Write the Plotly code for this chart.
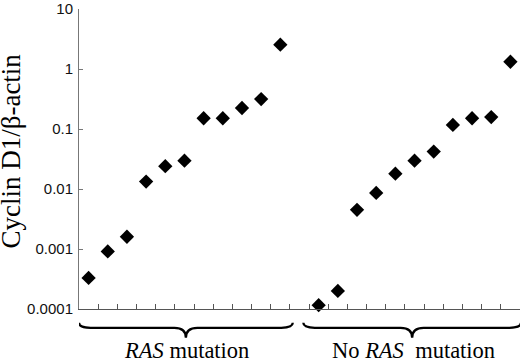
import plotly.graph_objects as go

# Data
ras_values = [0.00033, 0.00091, 0.0016, 0.0133, 0.024, 0.0296, 0.151, 0.151, 0.224, 0.315, 2.54]
noras_values = [0.000116, 0.0002, 0.0045, 0.0086, 0.018, 0.0296, 0.042, 0.117, 0.151, 0.158, 1.32]
group_labels = ["<i>RAS</i> mutation", "No <i>RAS</i>  mutation"]
y_tickvals = [0.0001, 0.001, 0.01, 0.1, 1, 10]
y_ticktext = ["0.0001", "0.001", "0.01", "0.1", "1", "10"]
y_title = "Cyclin D1/\u03b2-actin"

n1 = len(ras_values)
n2 = len(noras_values)
x1 = list(range(1, n1 + 1))
x2 = list(range(n1 + 2, n1 + 2 + n2))
n_total = n1 + 1 + n2

PLOT_H = 303

def py(pix_below_axis):
    return -pix_below_axis / PLOT_H

fig = go.Figure()
marker = dict(symbol="diamond", size=11, color="black")
fig.add_trace(go.Scatter(x=x1, y=ras_values, mode="markers", marker=marker, showlegend=False, cliponaxis=False))
fig.add_trace(go.Scatter(x=x2, y=noras_values, mode="markers", marker=marker, showlegend=False, cliponaxis=False))

def brace(xa, xb, y_end=py(14), y_mid=py(19), y_tip=py(29), r=0.6):
    xc = (xa + xb) / 2
    return (f"M {xa},{y_end} Q {xa},{y_mid} {xa + r},{y_mid} "
            f"L {xc - r},{y_mid} Q {xc},{y_mid} {xc},{y_tip} "
            f"Q {xc},{y_mid} {xc + r},{y_mid} "
            f"L {xb - r},{y_mid} Q {xb},{y_mid} {xb},{y_end}")

groups = [(x1[0] - 0.5, x1[-1] + 0.65), (x2[0] - 0.8, x2[-1] + 0.55)]
for (xa, xb), lab in zip(groups, group_labels):
    fig.add_shape(type="path", path=brace(xa, xb), xref="x", yref="paper",
                  line=dict(color="black", width=2.3))
    fig.add_annotation(x=(xa + xb) / 2 + 0.05, y=py(42), xref="x", yref="paper",
                       text=lab, showarrow=False, yanchor="middle",
                       font=dict(family="Liberation Serif", size=22.5, color="black"))

fig.add_annotation(x=(11 - 79) / 441, y=(309 - 150) / PLOT_H, xref="paper", yref="paper",
                   text=y_title, textangle=-90, showarrow=False, xanchor="center",
                   font=dict(family="Liberation Serif", size=27, color="black"))

fig.update_xaxes(range=[0.5, n_total + 0.5], tickvals=[i + 0.5 for i in range(1, n_total)],
                 ticktext=[""] * (n_total - 1), ticks="inside", ticklen=5, tickcolor="#555",
                 showline=True, linecolor="#555", linewidth=1, showgrid=False, zeroline=False)
fig.update_yaxes(type="log", range=[-4, 1], tickvals=y_tickvals, ticktext=y_ticktext,
                 ticks="inside", ticklen=4, tickcolor="#777", ticklabeloverflow="allow",
                 ticklabelstandoff=2,
                 showline=True, linecolor="#777", linewidth=1, showgrid=False, zeroline=False,
                 tickfont=dict(family="Liberation Sans", size=15, color="#111"))

fig.update_layout(width=520, height=363, margin=dict(l=79, r=0, t=6, b=54),
                  plot_bgcolor="white", paper_bgcolor="white")

fig.write_html("out.html", config={"displayModeBar": False},
               post_script="document.body.style.margin='0';document.body.style.overflow='hidden';")
